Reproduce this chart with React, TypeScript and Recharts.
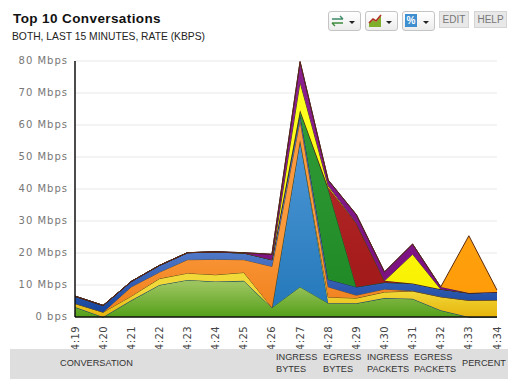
import React from "react";
import { AreaChart, Area, XAxis, YAxis, CartesianGrid } from "recharts";

const minutes = ["4:19","4:20","4:21","4:22","4:23","4:24","4:25","4:26","4:27","4:28","4:29","4:30","4:31","4:32","4:33","4:34"];
const lightGreen = [3.1,0,5.2,10,11.6,11.1,11.3,2.9,9.4,4.3,4.3,5.9,5.7,2.1,0,0];
const skyBlue = [0,0,0,0,0,0,0,0,45.9,0,0,0,0,0,0,0];
const gold = [1.1,1.5,1.3,2,2.1,2.1,2.6,0.1,0,1.9,1.6,1.9,2.4,4.2,5.2,5.3];
const orange = [0,0,2.9,2,4.2,4.8,4,12.8,6.2,3.2,0.9,0.9,0.1,0,0,0];
const blue = [2.3,2.1,1.7,2.1,2.2,2.3,2.1,2.1,1.7,2.3,2.6,2.1,2.3,2.4,2.3,2.5];
const darkGreen = [0,0,0,0,0,0,0,0,1.4,28.3,0,0,0,0,0,0];
const red = [0,0,0,0,0,0,0,0,0,0.5,19.9,0.5,0,0,0,0];
const yellow = [0,0,0,0,0,0,0,0,8.8,0.5,0,0,9.1,0,0,0];
const purple = [0,0,0,0,0,0.1,0.1,1.7,6.4,1.8,2.7,2.8,3.2,0.7,0,0];
const amber = [0,0,0,0,0,0,0,0,0,0,0,0,0,0,17.9,0.6];
const yTicks = [0,10,20,30,40,50,60,70,80];
const yTickLabels = ["0 bps","10 Mbps","20 Mbps","30 Mbps","40 Mbps","50 Mbps","60 Mbps","70 Mbps","80 Mbps"];

const layers = [
  { key: "lightGreen", values: lightGreen, top: "#9cc45e", mid: 10, bottom: "#54a01a", line: "#3f5f1c" },
  { key: "skyBlue", values: skyBlue, top: "#4a94d4", mid: 10, bottom: "#2277b8", line: "#1d4f78" },
  { key: "gold", values: gold, top: "#f2d93a", mid: 85, bottom: "#e6b40c", line: "#5a4a10" },
  { key: "orange", values: orange, top: "#fb9a3c", mid: 60, bottom: "#f0801c", line: "#6a4a20" },
  { key: "blue", values: blue, top: "#5078c8", mid: 70, bottom: "#16449c", line: "#1a2a50" },
  { key: "darkGreen", values: darkGreen, top: "#2f9a35", mid: 10, bottom: "#1f8a25", line: "#1a4a1c" },
  { key: "red", values: red, top: "#b82a2a", mid: 10, bottom: "#a01818", line: "#501010" },
  { key: "yellow", values: yellow, top: "#ffff20", mid: 10, bottom: "#f8f000", line: "#4a4a10" },
  { key: "purple", values: purple, top: "#8a2090", mid: 10, bottom: "#7a1080", line: "#3a103a" },
  { key: "amber", values: amber, top: "#ffa818", mid: 10, bottom: "#ff9c08", line: "#5a2a10" },
];

const rows = minutes.map((minute, i) => {
  const row: Record<string, string | number> = { minute };
  layers.forEach((l) => { row[l.key] = l.values[i]; });
  return row;
});

const sans = "Arial, 'Liberation Sans', sans-serif";
const mono = "'DejaVu Sans', sans-serif";

const YTick = ({ x, y, payload }: any) => (
  <text x={x + 1} y={y + 3} textAnchor="end" fontFamily={mono} fontSize={10} fill="#777" letterSpacing={1}>
    {yTickLabels[yTicks.indexOf(payload.value)]}
  </text>
);
const XTick = ({ x, y, payload }: any) => (
  <text transform={`translate(${x + 3.5},${y + 13}) rotate(-90)`} textAnchor="middle" fontFamily={mono} fontSize={10} fill="#444" letterSpacing={0.5}>
    {payload.value}
  </text>
);

const btn: React.CSSProperties = { position: "absolute", top: 11, height: 20, width: 33, boxSizing: "border-box", border: "1px solid #c4c4c4", borderRadius: 3, background: "linear-gradient(#fff,#ececec)" };
const flat: React.CSSProperties = { position: "absolute", top: 11, height: 17, boxSizing: "border-box", border: "1px solid #d4d4d4", background: "#e8e8e8", color: "#777", fontFamily: sans, fontSize: 10, textAlign: "center", lineHeight: "15px" };
const caret = <svg width="6" height="4" style={{ position: "absolute", left: 20, top: 9 }}><path d="M0 0H6L3 3Z" fill="#222" /></svg>;
const headCell = (left: number, lines: string[]) => (
  <div style={{ position: "absolute", left, top: lines.length === 1 ? 357 : 351, fontFamily: sans, fontSize: 9.2, lineHeight: "12px", color: "#333" }}>
    {lines.map((t) => <div key={t}>{t}</div>)}
  </div>
);

export default function App() {
  return (
    <div style={{ position: "absolute", left: 0, top: 0, width: 526, height: 380, background: "#fff", overflow: "hidden" }}>
      <div style={{ position: "absolute", left: 13, top: 11, fontFamily: sans, fontSize: 13.5, fontWeight: 700, color: "#111", letterSpacing: 0.4 }}>Top 10 Conversations</div>
      <div style={{ position: "absolute", left: 12, top: 31, fontFamily: sans, fontSize: 10.3, color: "#222" }}>BOTH, LAST 15 MINUTES, RATE (KBPS)</div>
      <div style={{ ...btn, left: 328 }}>
        <svg width="14" height="14" style={{ position: "absolute", left: 2, top: 2 }}><path d="M1 5H12M9 2L12 5" stroke="#3d8a6a" strokeWidth="1.3" fill="none" /><path d="M1 9H12M4 12L1 9" stroke="#3d8a3d" strokeWidth="1.3" fill="none" /></svg>{caret}
      </div>
      <div style={{ ...btn, left: 365 }}>
        <svg width="14" height="14" style={{ position: "absolute", left: 2, top: 2 }}><path d="M1 13V9L5 6L8 8L13 2V13Z" fill="#7fae2a" /><path d="M1 9L5 5L8 7L13 1" stroke="#b03020" strokeWidth="1.6" fill="none" /></svg>{caret}
      </div>
      <div style={{ ...btn, left: 402 }}>
        <div style={{ position: "absolute", left: 2, top: 2, width: 12, height: 13, background: "#3f8fd0", color: "#fff", fontFamily: sans, fontSize: 10, fontWeight: 700, lineHeight: "13px", textAlign: "center" }}>%</div>{caret}
      </div>
      <div style={{ ...flat, left: 439, width: 30 }}>EDIT</div>
      <div style={{ ...flat, left: 474, width: 33 }}>HELP</div>

      <div style={{ position: "absolute", left: 0, top: 0 }}>
        <AreaChart width={526} height={349} data={rows} margin={{ top: 61, right: 29, bottom: 4, left: 15 }}>
          <defs>
            {layers.map((l) => (
              <linearGradient key={l.key} id={`g-${l.key}`} x1="0" y1="0" x2="0" y2="1">
                <stop offset={`${l.mid}%`} stopColor={l.top} />
                <stop offset="100%" stopColor={l.bottom} />
              </linearGradient>
            ))}
          </defs>
          <CartesianGrid vertical={false} stroke="#e8e8e8" />
          <XAxis dataKey="minute" interval={0} tickLine={false} axisLine={{ stroke: "#111", strokeWidth: 1.5 }} tick={<XTick />} height={28} />
          <YAxis domain={[0, 80]} ticks={yTicks} width={60} tickLine={false} axisLine={{ stroke: "#111", strokeWidth: 1.5 }} tick={<YTick />} />
          {layers.map((l) => (
            <Area key={l.key} type="linear" dataKey={l.key} stackId="all" fill={`url(#g-${l.key})`} fillOpacity={1} stroke={l.line} strokeWidth={1} dot={false} activeDot={false} isAnimationActive={false} />
          ))}
        </AreaChart>
      </div>

      <div style={{ position: "absolute", left: 10, top: 349, width: 498, height: 30, background: "#dedede" }} />
      {headCell(60, ["CONVERSATION"])}
      {headCell(276, ["INGRESS", "BYTES"])}
      {headCell(323, ["EGRESS", "BYTES"])}
      {headCell(367, ["INGRESS", "PACKETS"])}
      {headCell(414, ["EGRESS", "PACKETS"])}
      {headCell(462, ["PERCENT"])}
    </div>
  );
}
